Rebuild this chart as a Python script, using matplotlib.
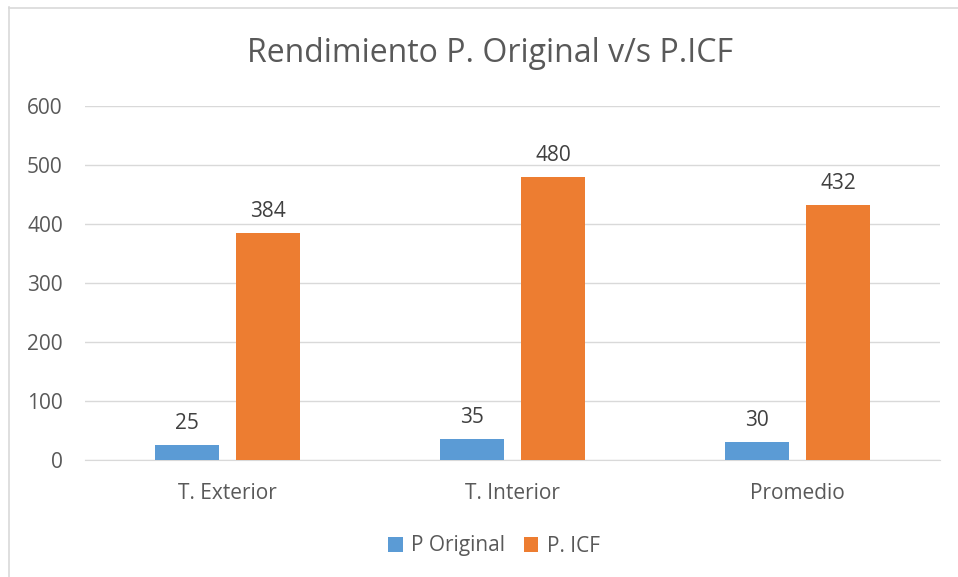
import matplotlib
matplotlib.use("Agg")
import matplotlib.pyplot as plt
import numpy as np
from matplotlib.lines import Line2D

categories = ["T. Exterior", "T. Interior", "Promedio"]
p_original = [25, 35, 30]
p_icf = [384, 480, 432]
series_names = ["P Original", "P. ICF"]
yticks = [0, 100, 200, 300, 400, 500, 600]

plt.rcParams['font.family'] = ['Open Sans', 'DejaVu Sans']
txt = '#595959'

W, H = 958, 577
fig = plt.figure(figsize=(W/100, H/100), dpi=100)
# chart-area border (only left and top visible in the reference)
fig.add_artist(Line2D([8.5/W, 8.5/W], [0, 1-7/H], transform=fig.transFigure, color='#D9D9D9', lw=1.2))
fig.add_artist(Line2D([8.5/W, 1], [1-7.5/H, 1-7.5/H], transform=fig.transFigure, color='#D9D9D9', lw=1.2))

ax = fig.add_axes([85/W, 1-460/H, (940-85)/W, (460-106)/H])

x = np.arange(len(categories))
w = 0.225
off = 0.142
b1 = ax.bar(x - off, p_original, w, color='#5B9BD5', label=series_names[0], zorder=3)
b2 = ax.bar(x + off, p_icf, w, color='#ED7D31', label=series_names[1], zorder=3)
for bars in (b1, b2):
    for r in bars:
        ax.annotate(f"{int(r.get_height())}", (r.get_x() + r.get_width()/2, r.get_height()),
                    xytext=(0, 8), textcoords='offset points', ha='center', va='bottom',
                    fontsize=15, color='#404040')

ax.set_xlim(-0.5, 2.5)
ax.set_ylim(0, 600)
ax.set_yticks(yticks)
ax.set_xticks(x)
ax.set_xticklabels(categories)
ax.tick_params(axis='both', length=0, labelsize=15, labelcolor=txt)
ax.tick_params(axis='x', pad=16.5)
ax.tick_params(axis='y', pad=16)
ax.yaxis.grid(True, color='#D9D9D9', linewidth=1, zorder=0)
for s in ['top', 'right', 'left']:
    ax.spines[s].set_visible(False)
ax.spines['bottom'].set_color('#D9D9D9')

fig.text(490/W, 1-53/H, "Rendimiento P. Original v/s P.ICF", ha='center', va='center',
         fontsize=23, color=txt)
fig.legend(handles=[b1, b2], labels=series_names, loc='center', bbox_to_anchor=(494/W, 1-546/H),
           ncol=2, frameon=False, fontsize=15, labelcolor=txt, handlelength=0.7,
           handleheight=0.7, handletextpad=0.4, columnspacing=0.9)

fig.savefig("out.png", dpi=100)
